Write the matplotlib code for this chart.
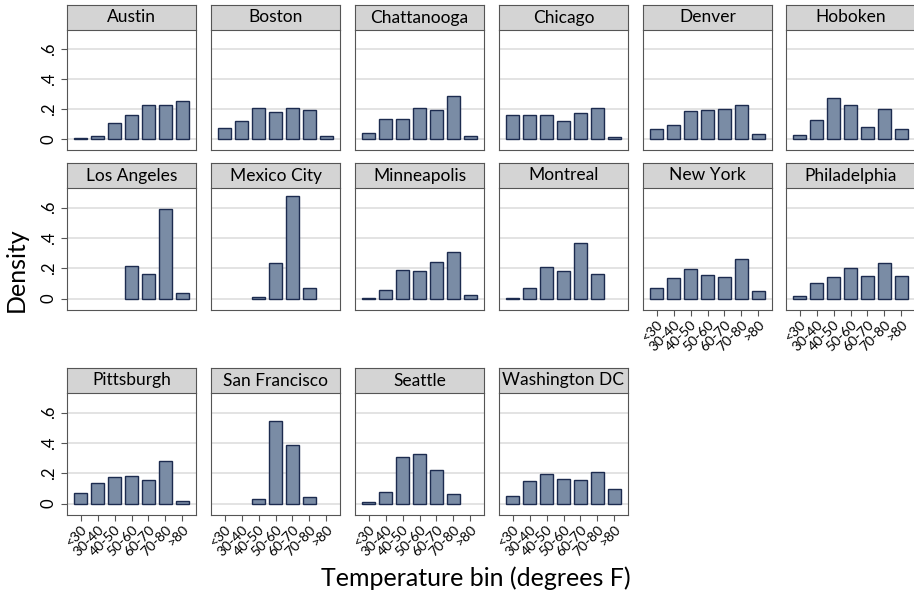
import matplotlib.pyplot as plt
from matplotlib.patches import Rectangle

plt.rcParams['font.family'] = ['Lato', 'DejaVu Sans']

bins = ['<30', '30-40', '40-50', '50-60', '60-70', '70-80', '>80']
cities = ['Austin', 'Boston', 'Chattanooga', 'Chicago', 'Denver', 'Hoboken',
          'Los Angeles', 'Mexico City', 'Minneapolis', 'Montreal', 'New York', 'Philadelphia',
          'Pittsburgh', 'San Francisco', 'Seattle', 'Washington DC']
density = {
    'Austin':        [0.005, 0.02, 0.105, 0.16, 0.23, 0.225, 0.255],
    'Boston':        [0.075, 0.12, 0.21, 0.18, 0.205, 0.19, 0.02],
    'Chattanooga':   [0.04, 0.135, 0.13, 0.21, 0.19, 0.285, 0.02],
    'Chicago':       [0.16, 0.16, 0.16, 0.12, 0.175, 0.21, 0.015],
    'Denver':        [0.065, 0.095, 0.185, 0.195, 0.2, 0.23, 0.03],
    'Hoboken':       [0.025, 0.125, 0.275, 0.23, 0.08, 0.2, 0.065],
    'Los Angeles':   [0, 0, 0, 0.215, 0.16, 0.59, 0.04],
    'Mexico City':   [0, 0, 0.01, 0.235, 0.68, 0.07, 0],
    'Minneapolis':   [0.005, 0.055, 0.19, 0.18, 0.245, 0.31, 0.025],
    'Montreal':      [0.005, 0.07, 0.21, 0.18, 0.37, 0.16, 0],
    'New York':      [0.07, 0.135, 0.195, 0.155, 0.145, 0.26, 0.05],
    'Philadelphia':  [0.02, 0.1, 0.145, 0.205, 0.15, 0.235, 0.15],
    'Pittsburgh':    [0.07, 0.135, 0.175, 0.18, 0.155, 0.28, 0.02],
    'San Francisco': [0, 0, 0.03, 0.545, 0.39, 0.045, 0],
    'Seattle':       [0.01, 0.075, 0.305, 0.33, 0.225, 0.065, 0],
    'Washington DC': [0.05, 0.15, 0.195, 0.165, 0.155, 0.21, 0.095],
}

W, H = 914, 596
fig = plt.figure(figsize=(W / 100, H / 100), dpi=100)

col_left = [67, 211, 355, 499, 643, 786]
pw = 129
rows = [(30, 150), (188, 310), (393, 515)]
hdr = 25

for i, city in enumerate(cities):
    r, c = divmod(i, 6)
    top, bot = rows[r]
    x0 = col_left[c]
    ax = fig.add_axes([x0 / W, 1 - bot / H, pw / W, (bot - top) / H])
    vals = density[city]
    xs = [k for k, v in enumerate(vals) if v > 0]
    ax.bar(xs, [vals[k] for k in xs], width=0.8, color='#7a8ca5',
           edgecolor='#1c2b4f', linewidth=1.0, zorder=3)
    ax.set_xlim(-0.8, 6.8)
    ax.set_ylim(-0.075, 0.73)
    ax.set_yticks([0, 0.2, 0.4, 0.6])
    for y in [0, 0.2, 0.4, 0.6]:
        ax.axhline(y, color='#dedede', lw=1.2, zorder=1)
    for s in ax.spines.values():
        s.set_color('#555555')
        s.set_linewidth(0.8)
    ax.spines['top'].set_visible(False)
    if c == 0:
        ax.set_yticklabels(['0', '.2', '.4', '.6'], rotation=90, va='center', fontsize=12)
        ax.tick_params(axis='y', length=4, color='#555555')
    else:
        ax.tick_params(axis='y', left=False, labelleft=False)
    below_empty = (i + 6 >= len(cities))
    ax.set_xticks(range(7))
    if below_empty:
        ax.set_xticklabels(bins, rotation=45, ha='right', rotation_mode='anchor', fontsize=10)
        ax.tick_params(axis='x', length=4, color='#555555', pad=2)
    else:
        ax.tick_params(axis='x', bottom=False, labelbottom=False)
    # header strip
    hax = fig.add_axes([x0 / W, 1 - top / H, pw / W, hdr / H])
    hax.set_xticks([]); hax.set_yticks([])
    hax.set_facecolor('#d4d4d4')
    for s in hax.spines.values():
        s.set_color('#555555')
        s.set_linewidth(0.8)
    hax.text(0.5, 0.5, city, ha='center', va='center', fontsize=12.5, transform=hax.transAxes)

fig.text(16 / W, 1 - 270 / H, 'Density', rotation=90, ha='center', va='center', fontsize=18)
fig.text(476 / W, 1 - 578 / H, 'Temperature bin (degrees F)', ha='center', va='center', fontsize=18)

fig.savefig('out.png', dpi=100)
